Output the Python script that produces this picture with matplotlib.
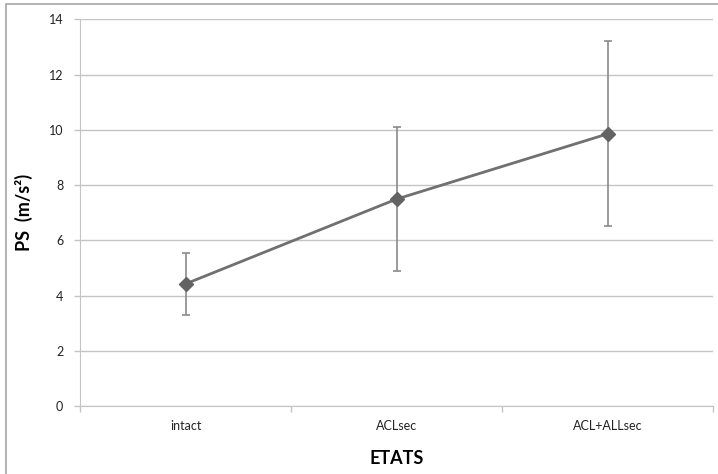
import matplotlib
matplotlib.use('Agg')
import matplotlib.pyplot as plt
from matplotlib.patches import Rectangle

etats = ['intact', 'ACLsec', 'ACL+ALLsec']
ps_mean = [4.42, 7.49, 9.85]
ps_err = [1.13, 2.62, 3.35]
y_ticks = [0, 2, 4, 6, 8, 10, 12, 14]

plt.rcParams['font.family'] = ['Lato', 'DejaVu Sans']

fig = plt.figure(figsize=(7.18, 4.74), dpi=100)
ax = fig.add_axes([80/718, 68/474, 633/718, 386.7/474])

x = [i + 0.5 for i in range(len(etats))]
ax.errorbar(x, ps_mean, yerr=ps_err, fmt='none', ecolor='#8a8a8a',
            elinewidth=1.2, capsize=3, capthick=1.2, zorder=3)
ax.plot(x, ps_mean, color='#707070', lw=2, marker='D', markersize=7.5,
        markerfacecolor='#636363', markeredgecolor='#636363', zorder=4)

ax.set_xlim(0, 3)
ax.set_ylim(0, 14)
ax.set_yticks(y_ticks)
ax.yaxis.grid(True, color='#c4c4c4', lw=1)
ax.set_axisbelow(True)
ax.set_xticks(x)
ax.set_xticklabels(etats)
ax.set_xticks([0, 1, 2, 3], minor=True)
ax.tick_params(axis='x', which='major', length=0, pad=10, labelsize=9, colors='#222222')
ax.tick_params(axis='x', which='minor', length=4, color='#c4c4c4', width=1)
ax.tick_params(axis='y', length=4, color='#c4c4c4', width=1, pad=8, labelsize=9, colors='#222222')
for s in ['top', 'right']:
    ax.spines[s].set_visible(False)
for s in ['left', 'bottom']:
    ax.spines[s].set_color('#c4c4c4')

ax.set_ylabel('PS  (m/s²)', fontsize=13, fontweight='bold', labelpad=11)
ax.set_xlabel('ETATS', fontsize=13, fontweight='bold', labelpad=13)

fig.patches.append(Rectangle((6/718, -0.1), 1.2, 1.1 - 4/474, transform=fig.transFigure,
                             fill=False, edgecolor='#a6a6a6', lw=1.2))

fig.savefig('out.png', dpi=100)
